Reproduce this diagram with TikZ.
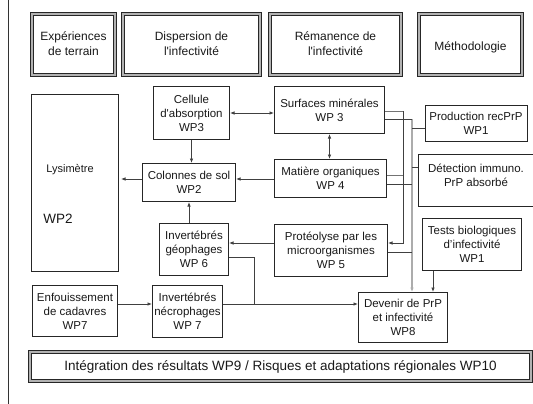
\documentclass[tikz,border=0pt]{standalone}
\usepackage{fontspec}
\setmainfont{Liberation Sans}[Ligatures=TeXOff]
\usetikzlibrary{arrows.meta,calc}
\begin{document}
\begin{tikzpicture}[x=1pt,y=-1pt,
  every node/.style={font=\fontsize{11.5}{14}\selectfont, text=black!90},
  hdr/.style={draw=black!85, line width=0.8pt, double=gray!60, double distance=2.4pt, inner sep=0pt},
  hdrtext/.style={align=center, font=\fontsize{12}{15}\selectfont},
  box/.style={draw=black!85, line width=0.8pt, fill=white, align=center, inner sep=0pt},
  ln/.style={draw=black!75, line width=0.8pt},
  lnl/.style={draw=black!55, line width=0.8pt},
  arr/.style={ln, -{Latex[length=4.5pt,width=3.6pt]}},
  darr/.style={ln, {Latex[length=4.5pt,width=3.6pt]}-{Latex[length=4.5pt,width=3.6pt]}},
  bus/.style={draw=gray!65, line width=1.3pt},
]
\useasboundingbox (0,0) rectangle (533,404);
\fill[white] (0,0) rectangle (533,404);
\coordinate (top) at (8,0);
\coordinate (bot) at (8,404);
\draw[ln, draw=black!80] (top) -- (bot);

% headers
\node[hdr, minimum width=83pt, minimum height=61pt] (exp) at (73.5,44.5) {};
\node[hdrtext] at ([yshift=1pt]exp.center) {Expériences\\de terrain};
\node[hdr, minimum width=137pt, minimum height=61pt] (disp) at (191.5,44.5) {};
\node[hdrtext] at ([yshift=1pt]disp.center) {Dispersion de\\l'infectivité};
\node[hdr, minimum width=131pt, minimum height=61pt] (rem) at (335.5,44.5) {};
\node[hdrtext] at ([yshift=1pt]rem.center) {Rémanence de\\l'infectivité};
\node[hdr, minimum width=103pt, minimum height=61pt] (meth) at (470.5,44.5) {};
\node[hdrtext] at ([yshift=-2.5pt]meth.center) {Méthodologie};

% boxes
\node[box, minimum width=87.2pt, minimum height=177.2pt] (lys) at (75,183) {};
\node[font=\fontsize{11}{13}\selectfont] at (70,170) {Lysimètre};
\node[font=\fontsize{13.5}{16}\selectfont] at (58,219) {WP2};
\node[box, minimum width=76.2pt, minimum height=53.2pt] (cell) at (191.5,113) {Cellule\\d'absorption\\WP3};
\node[box, minimum width=93.2pt, minimum height=38.2pt] (col) at (189,182.5) {Colonnes de sol\\WP2};
\node[box, minimum width=110.2pt, minimum height=47.2pt] (surf) at (329.5,110) {Surfaces minérales\\WP 3};
\node[box, minimum width=112.2pt, minimum height=38.2pt] (mat) at (330.5,178.5) {Matière organiques\\WP 4};
\node[box, minimum width=102.2pt, minimum height=36.2pt] (prod) at (476,123.5) {Production recPrP\\WP1};
\node[box, minimum width=121.2pt, minimum height=52.2pt] (det) at (479,180.5) {};
\node[align=center] at (476,175) {Détection immuno.\\PrP absorbé};
\node[box, minimum width=99.2pt, minimum height=52.2pt] (tests) at (472,244.5) {Tests biologiques\\d’infectivité\\WP1};
\node[box, minimum width=113.2pt, minimum height=52.2pt] (prot) at (331,250.5) {Protéolyse par les\\microorganismes\\WP 5};
\node[box, minimum width=89.2pt, minimum height=50.2pt] (dev) at (403,317.5) {Devenir de PrP\\et infectivité\\WP8};
\node[box, minimum width=69.2pt, minimum height=52.2pt] (geo) at (194,249.5) {Invertébrés\\géophages\\WP 6};
\node[box, minimum width=70.2pt, minimum height=52.2pt] (nec) at (187.5,311.5) {Invertébrés\\nécrophages\\WP 7};
\node[box, minimum width=85.2pt, minimum height=51.2pt] (enf) at (75,311) {Enfouissement\\de cadavres\\WP7};
\node[hdr, minimum width=501pt, minimum height=29pt, font=\fontsize{13.5}{16}\selectfont] (integ) at (280.5,366.5) {Intégration des résultats WP9 / Risques et adaptations régionales WP10};

% helper coordinates
\coordinate (y111) at (0,111);
\coordinate (y113) at (0,113);
\coordinate (y119) at (0,119);
\coordinate (y128) at (0,128);
\coordinate (y167) at (0,167);
\coordinate (y175) at (0,175);
\coordinate (y179) at (0,179);
\coordinate (y184) at (0,184);
\coordinate (y243) at (0,243);
\coordinate (y252) at (0,252);
\coordinate (y257) at (0,257);
\coordinate (y304) at (0,304);
\coordinate (a1) at (403,111);
\coordinate (a2) at (403,243);
\coordinate (b1) at (412,119);
\coordinate (j) at (254,304);
\coordinate (tx) at (433,0);

% connectors left part
\draw[arr] (cell.south) -- (cell.south |- col.north);
\draw[darr] (cell.east |- y113) -- (surf.west |- y113);
\draw[darr] (surf.south) -- (surf.south |- mat.north);
\draw[arr] (mat.west |- y179) -- (col.east |- y179);
\draw[arr, shorten >=2pt] (col.west |- y179) -- (lys.east |- y179);
\draw[arr] (col.south |- geo.north) -- (col.south);
\draw[arr] (prot.west |- y243) -- (geo.east |- y243);
\draw[ln] (geo.east |- y257) -| (j);
\draw[arr] (enf.east |- y304) -- (nec.west |- y304);
\draw[arr] (nec.east |- y304) -- (dev.west |- y304);

% bus 1 (x=403)
\draw[lnl] (surf.east |- y111) -- (a1);
\draw[lnl] (mat.east |- y175) -- (a1 |- y175);
\draw[arr] (a1) -- (a2) -- (prot.east |- a2);

% bus 2 (x=412)
\draw[bus, -{Latex[length=4.5pt,width=3.6pt]}] (b1) -- (b1 |- dev.north);
\draw[ln] (surf.east |- y119) -- (b1);
\draw[ln] (mat.east |- y184) -- (b1 |- y184);
\draw[ln] (prot.east |- y252) -- (b1 |- y252);
\draw[ln] (prod.west |- y128) -- (b1 |- y128);
\draw[ln] (det.west |- y167) -- (b1 |- y167);
\draw[arr] (tests.south -| tx) -- (dev.north -| tx);
\end{tikzpicture}
\end{document}
